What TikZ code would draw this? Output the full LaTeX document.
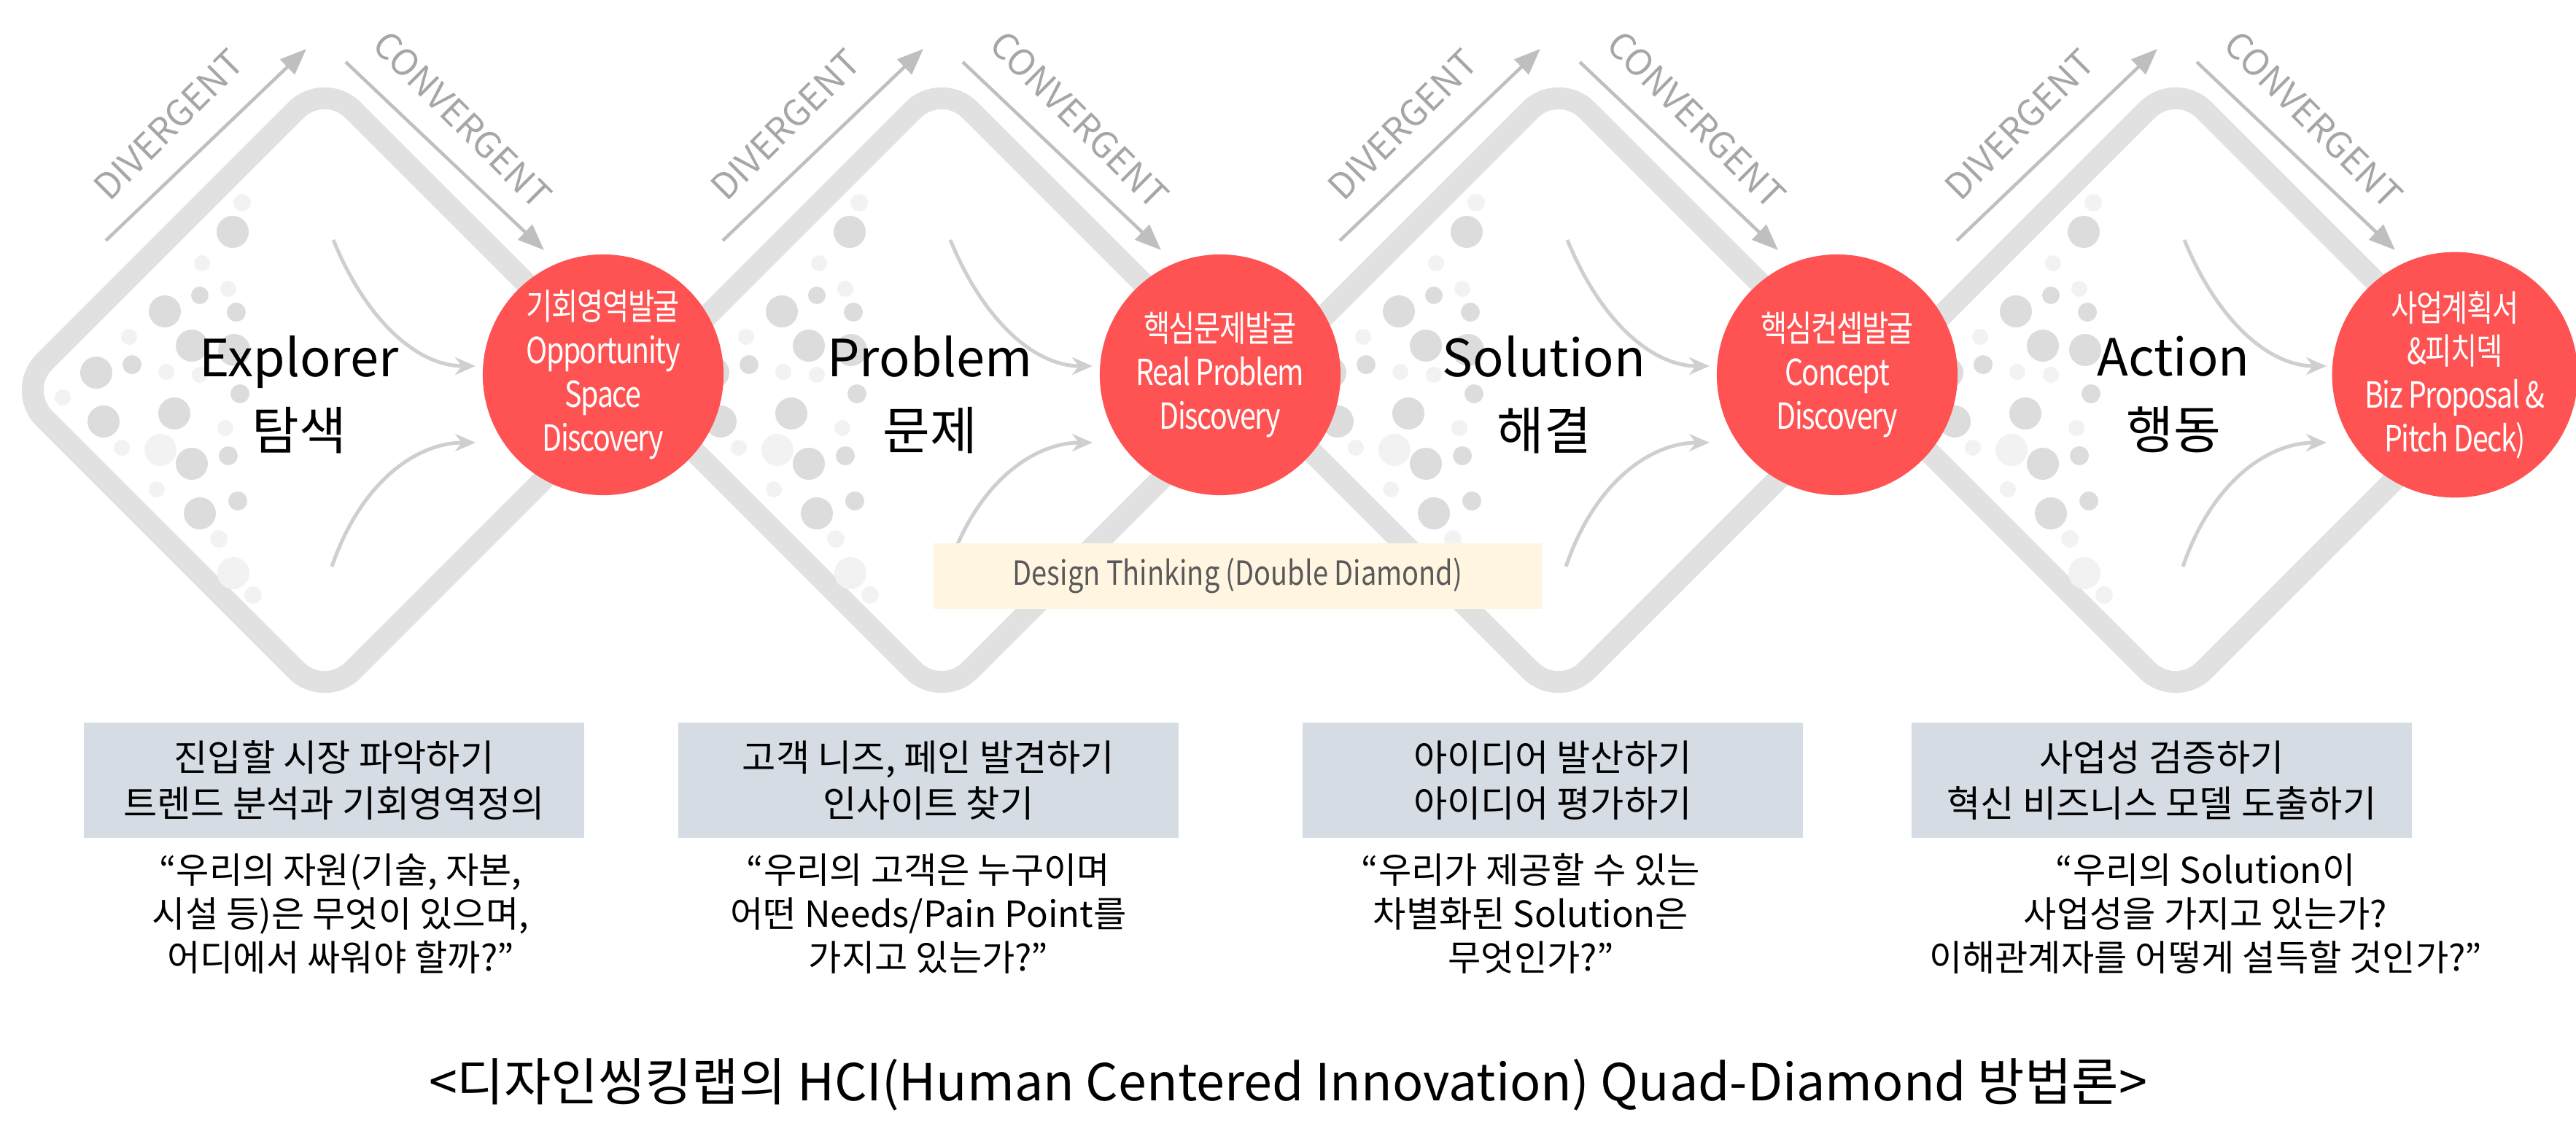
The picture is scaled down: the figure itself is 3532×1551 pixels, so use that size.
\documentclass[tikz,border=0pt]{standalone}
\usepackage{fontspec}
\setmainfont{Noto Sans CJK KR}
\newfontfamily\slimfont{Noto Sans CJK KR}[FakeStretch=0.8, LetterSpace=-3]
\newfontfamily\narrowfont{Noto Sans CJK KR}[FakeStretch=0.83]
\usetikzlibrary{arrows.meta}

\definecolor{bandgray}{HTML}{E1E1E1}
\definecolor{dotdark}{HTML}{DCDCDC}
\definecolor{dotlight}{HTML}{F2F2F2}
\definecolor{flowgray}{HTML}{CFCFCF}
\definecolor{arrowgray}{HTML}{BFBFBF}
\definecolor{labelgray}{HTML}{A6A6A6}
\definecolor{hotred}{HTML}{FF5252}
\definecolor{taskblue}{HTML}{D6DCE4}
\definecolor{notebeige}{HTML}{FFF5E1}
\definecolor{notetext}{HTML}{595959}

\begin{document}
\begin{tikzpicture}[x=0.01cm, y=-0.01cm,
    band/.style={draw=bandgray, line width=0.3cm, rounded corners=0.55cm},
    flow/.style={draw=flowgray, line width=0.05cm, -{Stealth[length=0.28cm, width=0.24cm]}},
    phase/.style={draw=arrowgray, line width=0.045cm, -{Triangle[length=0.36cm, width=0.28cm]}},
    phaselabel/.style={text=labelgray, font=\fontsize{14}{14}\selectfont},
    hotspot/.style={circle, fill=hotred, minimum size=3.3cm, inner sep=0pt, text=white, align=center, font=\slimfont\fontsize{14}{17}\selectfont},
    stage/.style={align=center, font=\fontsize{20}{28.5}\selectfont},
    taskbox/.style={fill=taskblue, minimum width=6.85cm, minimum height=1.58cm, align=center, font=\fontsize{14.3}{18}\selectfont},
    question/.style={align=center, font=\fontsize{14}{17}\selectfont},
    note/.style={fill=notebeige, minimum width=8.34cm, minimum height=0.89cm, text=notetext, font=\narrowfont\fontsize{13}{13}\selectfont}
]
    \useasboundingbox (0,0) rectangle (3532,1551);

    % four diamonds with their bubbles and arrows
    \foreach \k in {0,...,3} {
        \pgfmathsetmacro\cx{445+846*\k}
        \draw[band] ({\cx-423},535) -- (\cx,112) -- ({\cx+423},535) -- (\cx,958) -- cycle;

        \foreach \dx/\dy/\r/\tone in {-126/-217/22/dotdark, -168/-174/11/dotlight, -132/-139/11/dotlight,
            -171/-130/12/dotdark, -219/-108/22/dotdark, -121/-107/13/dotdark, -268/-73/11/dotlight,
            -182/-61/22/dotdark, -124/-55/22/dotdark, -264/-35/13/dotdark, -217/-25/11/dotlight,
            -171/-21/11/dotlight, -116/5/13/dotdark, -206/32/22/dotdark, -303/43/22/dotdark,
            -136/52/11/dotlight, -278/79/11/dotlight, -225/82/22/dotlight, -182/101/22/dotdark,
            -132/90/13/dotdark, -230/136/11/dotlight, -119/152/13/dotdark, -171/169/22/dotdark,
            -145/204/12/dotlight, -113/-257/12/dotlight, -313/-24/22/dotdark, -359/10/11/dotlight,
            -125/251/22/dotlight, -98/281/12/dotlight}
            \fill[fill=\tone] ({\cx+\dx},{535+\dy}) circle [radius=\r];

        \coordinate (upstart\k) at ({\cx+12},329);
        \coordinate (upend\k) at ({\cx+207},502);
        \draw[flow] (upstart\k) .. controls ({\cx+57},439) and ({\cx+127},502) .. (upend\k);
        \coordinate (lowstart\k) at ({\cx+10},777);
        \coordinate (lowend\k) at ({\cx+207},607);
        \draw[flow] (lowstart\k) .. controls ({\cx+50},660) and ({\cx+127},607) .. (lowend\k);

        \coordinate (divfrom\k) at ({\cx-300},330);
        \coordinate (divto\k) at ({\cx-25},67);
        \draw[phase] (divfrom\k) -- (divto\k);
        \node[phaselabel, rotate=45] (div\k) at ({\cx-214},171) {DIVERGENT};
        \coordinate (confrom\k) at ({\cx+29},85);
        \coordinate (conto\k) at ({\cx+301},343);
        \draw[phase] (confrom\k) -- (conto\k);
        \node[phaselabel, rotate=-45] (con\k) at ({\cx+189},164) {CONVERGENT};
    }

    \node[hotspot] (spot1) at (827,514) {기회영역발굴\\Opportunity\\Space\\Discovery};
    \node[hotspot] (spot2) at (1673,514) {핵심문제발굴\\Real Problem\\Discovery};
    \node[hotspot] (spot3) at (2519,514) {핵심컨셉발굴\\Concept\\Discovery};
    \node[hotspot] (spot4) at (3366,514) {사업계획서\\\&피치덱\\Biz Proposal \&\\Pitch Deck)};

    \node[stage] (stage1) at (410,541) {Explorer\\탐색};
    \node[stage] (stage2) at (1275,541) {Problem\\문제};
    \node[stage] (stage3) at (2117,541) {Solution\\해결};
    \node[stage] (stage4) at (2980,541) {Action\\행동};

    \node[note] (note) at (1697,790) {Design Thinking (Double Diamond)};

    \node[taskbox] (task1) at (458,1070) {진입할 시장 파악하기\\트렌드 분석과 기회영역정의};
    \node[taskbox] (task2) at (1273,1070) {고객 니즈, 페인 발견하기\\인사이트 찾기};
    \node[taskbox] (task3) at (2129,1070) {아이디어 발산하기\\아이디어 평가하기};
    \node[taskbox] (task4) at (2964,1070) {사업성 검증하기\\혁신 비즈니스 모델 도출하기};

    \node[question] (ask1) at (467,1253) {“우리의 자원(기술, 자본,\\시설 등)은 무엇이 있으며,\\어디에서 싸워야 할까?”};
    \node[question] (ask2) at (1273,1253) {“우리의 고객은 누구이며\\어떤 Needs/Pain Point를\\가지고 있는가?”};
    \node[question] (ask3) at (2099,1253) {“우리가 제공할 수 있는\\차별화된 Solution은\\무엇인가?”};
    \node[question] (ask4) at (3024,1253) {“우리의 Solution이\\사업성을 가지고 있는가?\\이해관계자를 어떻게 설득할 것인가?”};

    \node (title) at (1766,1487) {\fontsize{19.9}{20}\selectfont <디자인씽킹랩의 HCI(Human Centered Innovation) Quad-Diamond 방법론>};
\end{tikzpicture}
\end{document}
